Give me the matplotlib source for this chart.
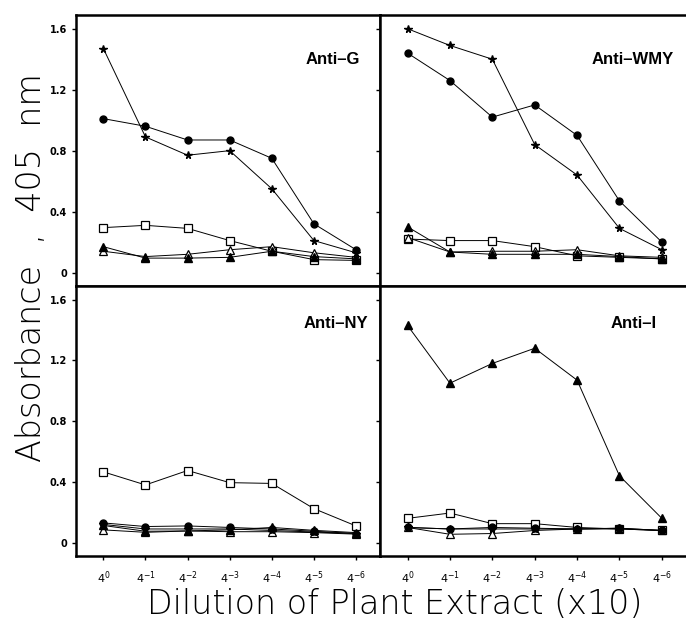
import matplotlib.pyplot as plt
import numpy as np

# dilution steps 4^0 .. 4^-6
dilutions = ['$4^{0}$', '$4^{-1}$', '$4^{-2}$', '$4^{-3}$', '$4^{-4}$', '$4^{-5}$', '$4^{-6}$']
yticks = [0, 0.4, 0.8, 1.2, 1.6]
ytick_labels = ['0', '0.4', '0.8', '1.2', '1.6']

# Anti-G panel
g_circle = [1.01, 0.96, 0.87, 0.87, 0.75, 0.32, 0.15]
g_star = [1.47, 0.89, 0.77, 0.80, 0.55, 0.21, 0.13]
g_osquare = [0.295, 0.31, 0.29, 0.21, 0.14, 0.085, 0.08]
g_otri = [0.14, 0.105, 0.12, 0.15, 0.17, 0.13, 0.10]
g_ftri = [0.17, 0.095, 0.095, 0.10, 0.14, 0.105, 0.09]

# Anti-WMY panel
w_circle = [1.44, 1.26, 1.02, 1.10, 0.90, 0.47, 0.20]
w_star = [1.60, 1.49, 1.40, 0.84, 0.64, 0.29, 0.15]
w_osquare = [0.22, 0.21, 0.21, 0.17, 0.11, 0.10, 0.09]
w_otri = [0.23, 0.135, 0.14, 0.14, 0.15, 0.11, 0.10]
w_ftri = [0.30, 0.135, 0.12, 0.12, 0.12, 0.105, 0.09]

# Anti-NY panel
ny_circle = [0.13, 0.106, 0.11, 0.10, 0.09, 0.075, 0.06]
ny_star = [0.12, 0.09, 0.09, 0.09, 0.08, 0.07, 0.06]
ny_osquare = [0.466, 0.38, 0.475, 0.395, 0.39, 0.224, 0.11]
ny_otri = [0.084, 0.068, 0.077, 0.072, 0.072, 0.066, 0.056]
ny_ftri = [0.113, 0.075, 0.077, 0.084, 0.10, 0.081, 0.066]

# Anti-I panel
i_circle = [0.10, 0.09, 0.10, 0.095, 0.09, 0.095, 0.08]
i_star = [0.10, 0.09, 0.09, 0.09, 0.09, 0.09, 0.08]
i_osquare = [0.16, 0.195, 0.125, 0.125, 0.10, 0.09, 0.08]
i_otri = [0.10, 0.055, 0.06, 0.08, 0.09, 0.095, 0.08]
i_ftri = [1.43, 1.05, 1.18, 1.28, 1.07, 0.44, 0.16]

x = np.arange(len(dilutions))

fig = plt.figure(figsize=(6.86, 6.24), dpi=100)
W, H = 686., 624.
# panel boxes in pixels: (left, top, right, bottom), title anchor (right edge, centre y)
boxes = {
    'G': ((76, 15, 380, 286), (360, 60)),
    'WMY': ((380, 15, 686, 286), (674, 60)),
    'NY': ((76, 286, 380, 556), (368, 324)),
    'I': ((380, 286, 686, 556), (657, 323)),
}
panels = [
    ('G', 'Anti\u2013G', g_circle, g_star, g_osquare, g_otri, g_ftri),
    ('WMY', 'Anti\u2013WMY', w_circle, w_star, w_osquare, w_otri, w_ftri),
    ('NY', 'Anti\u2013NY', ny_circle, ny_star, ny_osquare, ny_otri, ny_ftri),
    ('I', 'Anti\u2013I', i_circle, i_star, i_osquare, i_otri, i_ftri),
]

for key, title, circ, star, osq, otri, ftri in panels:
    (l, t, r, b), (tx, ty) = boxes[key]
    ax = fig.add_axes([l / W, 1 - b / H, (r - l) / W, (b - t) / H])
    lw = 0.7
    ax.plot(x, osq, '-', color='k', lw=lw, marker='s', ms=6, mfc='white', mec='k', mew=0.9)
    ax.plot(x, otri, '-', color='k', lw=lw, marker='^', ms=6, mfc='white', mec='k', mew=0.9)
    ax.plot(x, ftri, '-', color='k', lw=lw, marker='^', ms=6, mfc='k', mec='k')
    ax.plot(x, circ, '-', color='k', lw=lw, marker='o', ms=5, mfc='k', mec='k')
    ax.plot(x, star, '-', color='k', lw=lw, marker='*', ms=5.5, mfc='k', mec='k')

    ax.set_xlim(-0.65, 6.57)
    ax.set_ylim(-0.088, 1.69)
    ax.set_xticks(x)
    ax.set_yticks(yticks)
    ax.tick_params(direction='out', length=3, width=1, labelsize=7)
    for s in ax.spines.values():
        s.set_linewidth(1.8)
    if key in ('WMY', 'I'):
        ax.spines['right'].set_visible(False)
        ax.set_yticklabels([])
    else:
        ax.set_yticklabels(ytick_labels, fontweight='bold')
    if key in ('NY', 'I'):
        ax.set_xticklabels(dilutions, fontsize=8, fontweight='bold')
        ax.tick_params(axis='x', pad=7)
    else:
        ax.set_xticklabels([])
    fig.text(tx / W, 1 - ty / H, title, ha='right', va='center',
             fontsize=12, fontweight='bold', family='Liberation Sans')

fig.text(32 / W, 1 - 268 / H, 'Absorbance  ,  405  nm', rotation=90, ha='center', va='center',
         fontsize=24, family='DejaVu Sans', fontweight='light')
fig.text(395 / W, 1 - 605 / H, 'Dilution of Plant Extract (x10)', ha='center', va='center',
         fontsize=24, family='DejaVu Sans', fontweight='light')

fig.savefig('out.png', dpi=100)
